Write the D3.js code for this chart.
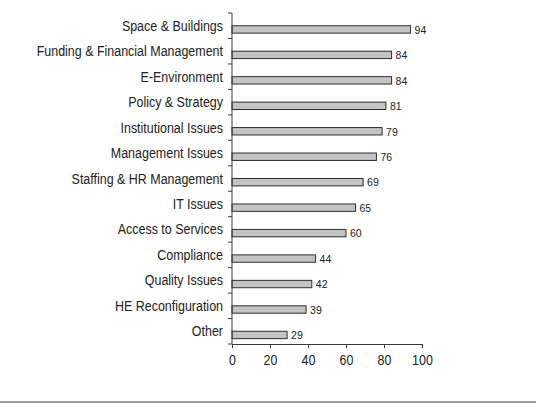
<!DOCTYPE html>
<html>
<head>
<meta charset="utf-8">
<script src="https://cdn.jsdelivr.net/npm/d3@7"></script>
<style>
  html, body { margin: 0; padding: 0; background: #fff; }
  svg { display: block; }
</style>
</head>
<body>
<div id="chart"></div>
<script>
// Issue categories, top to bottom
const categories = [
  "Space & Buildings",
  "Funding & Financial Management",
  "E-Environment",
  "Policy & Strategy",
  "Institutional Issues",
  "Management Issues",
  "Staffing & HR Management",
  "IT Issues",
  "Access to Services",
  "Compliance",
  "Quality Issues",
  "HE Reconfiguration",
  "Other"
];
// Count of responses per category
const values = [94, 84, 84, 81, 79, 76, 69, 65, 60, 44, 42, 39, 29];
// Horizontal axis ticks
const xTicks = [0, 20, 40, 60, 80, 100];

const W = 536, H = 403;
const svg = d3.select("#chart").append("svg")
  .attr("width", W).attr("height", H);

const x = d3.scaleLinear().domain([0, 100]).range([232, 422]);
const y = d3.scaleBand().domain(categories).range([13, 344]).padding(0);

const axisColor = "#3a3a3a";
const textColor = "#222";
const font = "Liberation Sans, Arial, sans-serif";
// Labels use a slightly condensed face
const squeeze = 0.89;

// Bars sit in the lower half of each band
const barOffset = y.bandwidth() * 0.5;
const barH = y.bandwidth() * 0.29;

svg.append("g").selectAll("rect")
  .data(categories)
  .join("rect")
  .attr("x", x(0))
  .attr("y", d => y(d) + barOffset)
  .attr("width", (d, i) => x(values[i]) - x(0))
  .attr("height", barH)
  .attr("fill", "#c4c4c4")
  .attr("stroke", "#2e2e2e")
  .attr("stroke-width", 1);

// Value labels at bar ends
svg.append("g").selectAll("text")
  .data(categories)
  .join("text")
  .attr("transform", (d, i) => `translate(${x(values[i]) + 4},${y(d) + barOffset + barH / 2}) scale(${squeeze},1)`)
  .attr("dy", "0.36em")
  .attr("font-family", font)
  .attr("font-size", 11.8)
  .attr("fill", textColor)
  .text((d, i) => values[i]);

// Category labels
svg.append("g").selectAll("text")
  .data(categories)
  .join("text")
  .attr("transform", d => `translate(223,${y(d) + y.bandwidth() / 2}) scale(${squeeze},1)`)
  .attr("dy", "0.36em")
  .attr("text-anchor", "end")
  .attr("font-family", font)
  .attr("font-size", 14)
  .attr("fill", textColor)
  .text(d => d);

// Vertical axis with ticks at band boundaries
const bounds = categories.map(c => y(c)).concat([y.range()[1]]);
const yAxis = svg.append("g");
yAxis.append("line")
  .attr("x1", x(0)).attr("x2", x(0))
  .attr("y1", y.range()[0]).attr("y2", y.range()[1])
  .attr("stroke", axisColor).attr("stroke-width", 1);
yAxis.selectAll("line.tick")
  .data(bounds)
  .join("line")
  .attr("class", "tick")
  .attr("x1", x(0) - 4).attr("x2", x(0))
  .attr("y1", d => d).attr("y2", d => d)
  .attr("stroke", axisColor).attr("stroke-width", 1);

// Horizontal axis
const xAxis = d3.axisBottom(x).tickValues(xTicks).tickSize(4).tickSizeOuter(0).tickPadding(5);
const gx = svg.append("g")
  .attr("transform", `translate(0,${y.range()[1]})`)
  .call(xAxis);
gx.select(".domain").attr("stroke", axisColor);
gx.selectAll(".tick line").attr("stroke", axisColor);
gx.selectAll(".tick text")
  .attr("y", null).attr("dy", null)
  .attr("transform", `translate(0,17.5) scale(${squeeze},1)`)
  .attr("dominant-baseline", "middle")
  .attr("font-family", font)
  .attr("font-size", 14)
  .attr("fill", textColor);

// Bottom rule across the page
svg.append("rect")
  .attr("x", 0).attr("y", 401)
  .attr("width", W).attr("height", 2)
  .attr("fill", "#a0a0a0");
</script>
</body>
</html>
